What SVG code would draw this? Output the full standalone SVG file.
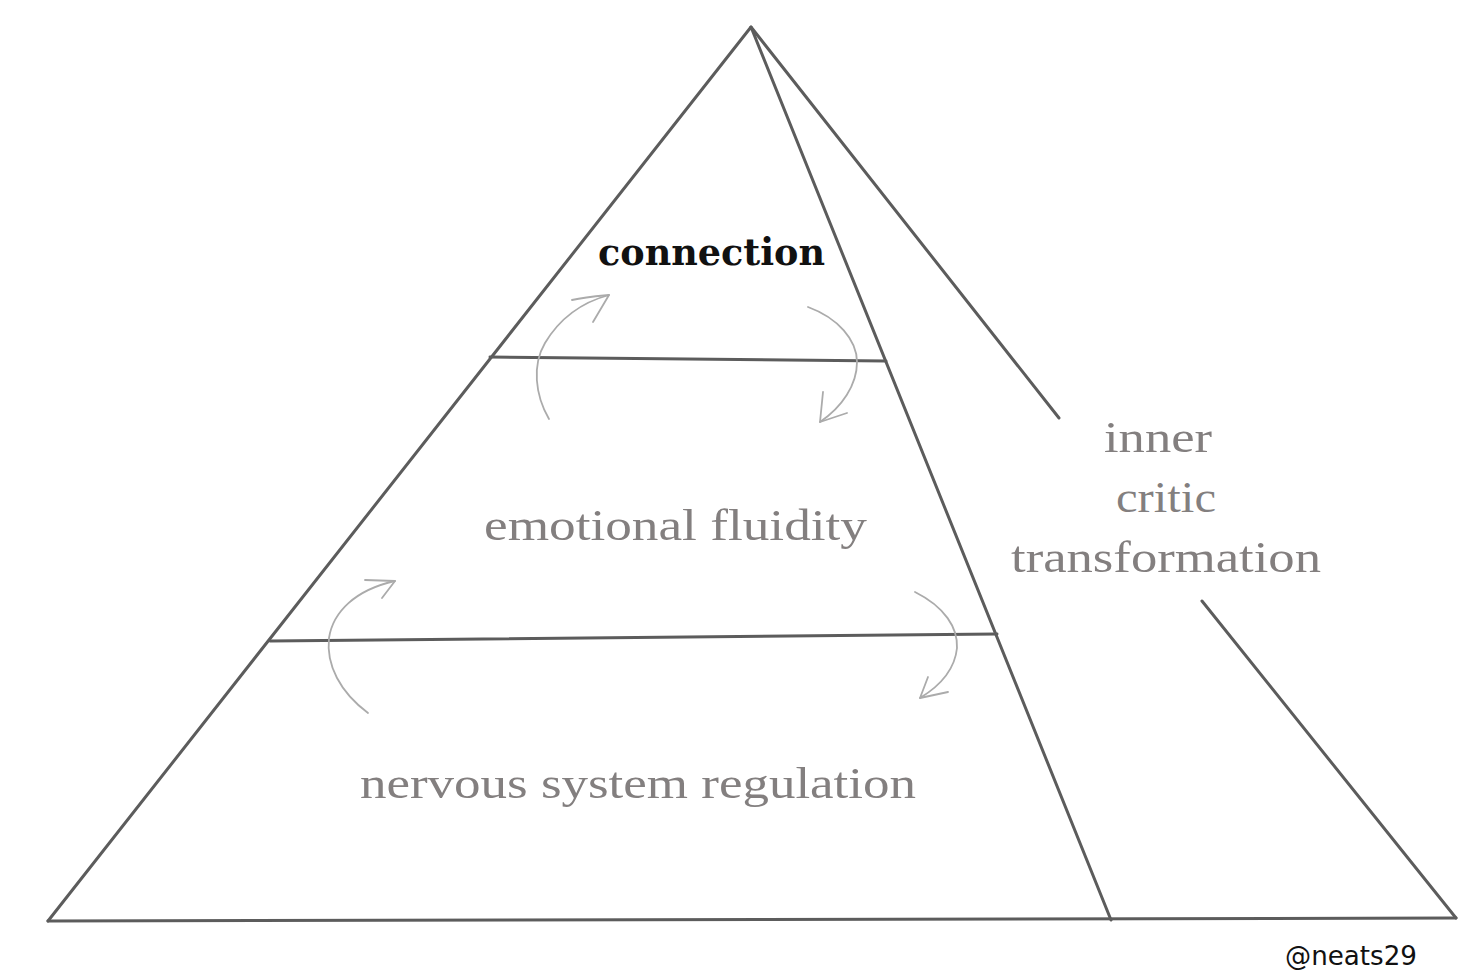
<svg xmlns="http://www.w3.org/2000/svg" width="1482" height="980" viewBox="0 0 1482 980">
<style>
.edge{fill:none;stroke:#5c5c5c;stroke-width:3;stroke-linecap:round;stroke-linejoin:round}
.arc{fill:none;stroke:#ababab;stroke-width:1.8;stroke-linecap:round;stroke-linejoin:round}
.lbl{font-family:"Liberation Serif","DejaVu Serif",serif;fill:#837f7f;font-size:44px}
.main{font-family:"DejaVu Serif","Liberation Serif",serif;fill:#111;font-size:38px;font-weight:bold}
.sig{font-family:"DejaVu Sans","Liberation Sans",sans-serif;fill:#111;font-size:27px}
</style>
<rect width="1482" height="980" fill="#fff"/>
<g id="pyramid">
<path class="edge" d="M48 921 L751 27 L1111 920"/>
<path class="edge" d="M48 921 L1456 918"/>
<path class="edge" d="M751 27 L1059 418"/>
<path class="edge" d="M1202 601 L1456 918"/>
<path class="edge" d="M490 357 L886 361"/>
<path class="edge" d="M270 641 L997 634"/>
</g>
<g id="connectors">
<path class="arc" d="M549 419 C535 395 532 365 545 343 C560 318 583 302 609 295"/>
<path class="arc" d="M572 300 C585 297 598 296 609 295 L593 322"/>
<path class="arc" d="M808 307 C838 318 857 340 857 362 C857 385 842 407 820 422"/>
<path class="arc" d="M847 413 L820 422 L823 392"/>
<path class="arc" d="M368 713 C340 692 326 665 329 638 C333 612 355 590 395 581"/>
<path class="arc" d="M365 580 L395 581 L382 598"/>
<path class="arc" d="M915 592 C945 607 958 628 957 648 C955 668 943 684 920 698"/>
<path class="arc" d="M948 692 L920 698 L928 677"/>
</g>
<g id="node-connection">
<text class="main" x="598" y="265" textLength="227" lengthAdjust="spacingAndGlyphs">connection</text>
</g>
<g id="node-emotional">
<text class="lbl" x="484" y="540" textLength="383" lengthAdjust="spacingAndGlyphs">emotional fluidity</text>
</g>
<g id="node-nervous">
<text class="lbl" x="360" y="798" textLength="556" lengthAdjust="spacingAndGlyphs">nervous system regulation</text>
</g>
<g id="node-inner">
<text class="lbl" x="1104" y="452" textLength="108" lengthAdjust="spacingAndGlyphs">inner</text>
<text class="lbl" x="1116" y="512" textLength="100" lengthAdjust="spacingAndGlyphs">critic</text>
<text class="lbl" x="1011" y="572" textLength="310" lengthAdjust="spacingAndGlyphs">transformation</text>
</g>
<g id="signature">
<text class="sig" x="1285" y="965" textLength="132" lengthAdjust="spacingAndGlyphs">@neats29</text>
</g>
</svg>
